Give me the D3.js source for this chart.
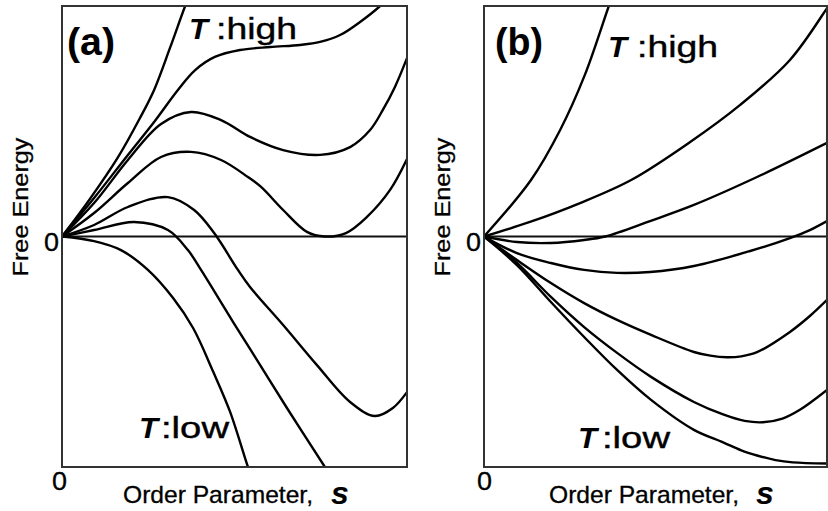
<!DOCTYPE html>
<html>
<head>
<meta charset="utf-8">
<script src="https://cdn.jsdelivr.net/npm/d3@7"></script>
<style>
  body { margin: 0; background: #fff; }
  svg { display: block; font-family: "Liberation Sans", Arial, sans-serif; }
</style>
</head>
<body>
<svg id="chart" width="828" height="511"></svg>
<script>
// Free energy curves as [s, F] pairs (s: 0..1, F: -1..1)
// Panel (a): first-order transition, high T first
const curveA1 = [[0, 0], [0.081, 0.163], [0.162, 0.343], [0.226, 0.514], [0.267, 0.636], [0.313, 0.818], [0.357, 1.0], [0.371, 1.05]];
const curveA2 = [[0, 0], [0.093, 0.167], [0.191, 0.354], [0.267, 0.497], [0.336, 0.636], [0.386, 0.722], [0.443, 0.779], [0.516, 0.809], [0.603, 0.822], [0.69, 0.831], [0.748, 0.844], [0.806, 0.874], [0.864, 0.931], [0.922, 1.0], [0.939, 1.026]];
const curveA3 = [[0, 0], [0.093, 0.145], [0.191, 0.332], [0.287, 0.488], [0.374, 0.54], [0.461, 0.505], [0.545, 0.432], [0.641, 0.375], [0.748, 0.354], [0.835, 0.388], [0.893, 0.462], [0.93, 0.549], [0.965, 0.649], [1.0, 0.774]];
const curveA4 = [[0, 0], [0.093, 0.102], [0.191, 0.232], [0.287, 0.345], [0.374, 0.367], [0.461, 0.332], [0.539, 0.258], [0.577, 0.215], [0.641, 0.115], [0.71, 0.02], [0.762, 0], [0.823, 0.015], [0.884, 0.085], [0.951, 0.202], [1.0, 0.336]];
const curveA5 = [[0, 0], [0.093, 0.05], [0.191, 0.128], [0.307, 0.171], [0.383, 0.115], [0.441, 0.015], [0.51, -0.145], [0.545, -0.219], [0.641, -0.384], [0.739, -0.558], [0.835, -0.718], [0.907, -0.779], [0.959, -0.744], [1.0, -0.675]];
const curveA6 = [[0, 0], [0.093, 0.028], [0.209, 0.063], [0.307, 0.028], [0.365, -0.059], [0.403, -0.145], [0.496, -0.371], [0.574, -0.557], [0.652, -0.744], [0.762, -1.0], [0.777, -1.035]];
const curveA7 = [[0, 0], [0.093, -0.02], [0.171, -0.059], [0.249, -0.145], [0.322, -0.267], [0.38, -0.397], [0.438, -0.586], [0.487, -0.76], [0.539, -1.0], [0.548, -1.035]];

// Panel (b): second-order transition, high T first
const curveB1 = [[0, 0], [0.137, 0.245], [0.222, 0.462], [0.294, 0.701], [0.364, 1.0], [0.376, 1.047]];
const curveB2 = [[0, 0], [0.134, 0.063], [0.28, 0.145], [0.429, 0.245], [0.601, 0.41], [0.746, 0.57], [0.892, 0.766], [1.0, 0.991], [1.015, 1.026]];
const curveB3 = [[0, 0], [0.096, -0.024], [0.195, -0.028], [0.292, -0.015], [0.353, 0], [0.484, 0.067], [0.612, 0.137], [0.796, 0.258], [1.0, 0.406]];
const curveB4 = [[0, 0], [0.096, -0.072], [0.195, -0.115], [0.292, -0.145], [0.388, -0.158], [0.484, -0.154], [0.612, -0.128], [0.776, -0.063], [0.892, -0.007], [0.95, 0.028], [1.0, 0.067]];
const curveB5 = [[0, 0], [0.096, -0.102], [0.195, -0.202], [0.292, -0.289], [0.388, -0.362], [0.487, -0.427], [0.612, -0.501], [0.66, -0.517], [0.708, -0.524], [0.75, -0.52], [0.796, -0.502], [0.892, -0.414], [0.95, -0.345], [1.0, -0.275]];
const curveB6 = [[0, 0], [0.096, -0.115], [0.195, -0.262], [0.292, -0.393], [0.388, -0.505], [0.487, -0.609], [0.612, -0.718], [0.697, -0.772], [0.76, -0.8], [0.813, -0.806], [0.87, -0.79], [0.921, -0.752], [1.0, -0.666]];
const curveB7 = [[0, 0], [0.096, -0.124], [0.195, -0.284], [0.292, -0.436], [0.388, -0.579], [0.487, -0.709], [0.612, -0.839], [0.697, -0.893], [0.75, -0.928], [0.796, -0.95], [0.85, -0.97], [0.9, -0.98], [1.0, -0.985]];

const curvesA = [curveA1, curveA2, curveA3, curveA4, curveA5, curveA6, curveA7];
const curvesB = [curveB1, curveB2, curveB3, curveB4, curveB5, curveB6, curveB7];

const panelTags = ["(a)", "(b)"];
const highLabel = ":high";
const lowLabel = ":low";
const tempSymbol = "T";
const xLabel = "Order Parameter,";
const xSymbol = "s";
const yLabel = "Free Energy";
const zeroTick = [0];

const svg = d3.select("#chart");
const frameTop = 6, frameBottom = 467;

const panels = [
  {
    curves: curvesA, tag: panelTags[0], x0: 62, x1: 407,
    tagX: 67, tagY: 55,
    highT: 189, high: 216, highY: 39,
    lowT: 139, low: 161, lowY: 438,
    yLabX: 28, sLab: 123, sSym: 331
  },
  {
    curves: curvesB, tag: panelTags[1], x0: 484, x1: 827,
    tagX: 495, tagY: 55,
    highT: 608, high: 637, highY: 57,
    lowT: 578, low: 602, lowY: 448,
    yLabX: 450, sLab: 549, sSym: 756
  }
];

panels.forEach((p, i) => {
  const x = d3.scaleLinear().domain([0, 1]).range([p.x0, p.x1]);
  const y = d3.scaleLinear().domain([-1, 1]).range([frameBottom, frameTop]);
  const g = svg.append("g").attr("class", "panel-" + i);

  // clip curves to the frame
  const clipId = "clip" + i;
  svg.append("clipPath").attr("id", clipId)
    .append("rect")
    .attr("x", p.x0).attr("y", frameTop)
    .attr("width", p.x1 - p.x0).attr("height", frameBottom - frameTop);

  // zero line
  g.append("line")
    .attr("x1", x(0)).attr("x2", x(1))
    .attr("y1", y(0)).attr("y2", y(0))
    .attr("stroke", "#111").attr("stroke-width", 2);

  const line = d3.line()
    .x((d) => x(d[0]))
    .y((d) => y(d[1]))
    .curve(d3.curveCatmullRom.alpha(0.5));

  g.append("g")
    .attr("clip-path", `url(#${clipId})`)
    .selectAll("path")
    .data(p.curves)
    .join("path")
    .attr("d", line)
    .attr("fill", "none")
    .attr("stroke", "#000")
    .attr("stroke-width", 2.4)
    .attr("stroke-linecap", "round");

  // frame
  g.append("rect")
    .attr("x", p.x0).attr("y", frameTop)
    .attr("width", p.x1 - p.x0).attr("height", frameBottom - frameTop)
    .attr("fill", "none")
    .attr("stroke", "#333").attr("stroke-width", 2);

  // "0" ticks on both axes
  const yAxis = g.append("g")
    .attr("transform", `translate(${p.x0},0)`)
    .call(d3.axisLeft(y).tickValues(zeroTick).tickSize(0).tickPadding(3).tickFormat(d3.format("d")));
  const xAxis = g.append("g")
    .attr("transform", `translate(0,${frameBottom})`)
    .call(d3.axisBottom(x).tickValues(zeroTick).tickSize(0).tickPadding(5).tickFormat(d3.format("d")));
  [yAxis, xAxis].forEach((a) => {
    a.select(".domain").remove();
    a.selectAll("text")
      .attr("fill", "#000")
      .style("font-size", "25px")
      .style("font-family", "'Liberation Sans', Arial, sans-serif")
      .attr("stroke", "#000").attr("stroke-width", 0.3)
      .attr("textLength", 15)
      .attr("lengthAdjust", "spacingAndGlyphs");
  });
  yAxis.selectAll("text").attr("dy", "0.56em");
  xAxis.selectAll("text").attr("dx", i === 0 ? -3 : 0);

  // panel tag
  g.append("text")
    .attr("x", p.tagX).attr("y", p.tagY)
    .style("font-size", "38px").style("font-weight", "bold")
    .attr("textLength", 48).attr("lengthAdjust", "spacingAndGlyphs")
    .text(p.tag);

  // temperature labels
  const tempLabel = (tx, lx, ty, txt, len) => {
    g.append("text")
      .attr("x", tx).attr("y", ty)
      .style("font-size", "30px").style("font-weight", "bold").style("font-style", "italic")
      .attr("textLength", 19).attr("lengthAdjust", "spacingAndGlyphs")
      .text(tempSymbol);
    g.append("text")
      .attr("x", lx).attr("y", ty)
      .style("font-size", "30px")
      .attr("stroke", "#000").attr("stroke-width", 0.4)
      .attr("textLength", len).attr("lengthAdjust", "spacingAndGlyphs")
      .text(txt);
  };
  tempLabel(p.highT, p.high, p.highY, highLabel, 81);
  tempLabel(p.lowT, p.low, p.lowY, lowLabel, 68);

  // axis titles
  g.append("text")
    .attr("x", p.sLab).attr("y", 503)
    .style("font-size", "24px")
    .attr("stroke", "#000").attr("stroke-width", 0.3)
    .attr("textLength", 190).attr("lengthAdjust", "spacingAndGlyphs")
    .text(xLabel);
  g.append("text")
    .attr("x", p.sSym).attr("y", 504)
    .style("font-size", "32px").style("font-weight", "bold").style("font-style", "italic")
    .text(xSymbol);
  g.append("text")
    .attr("transform", `translate(${p.yLabX},207) rotate(-90)`)
    .attr("text-anchor", "middle")
    .style("font-size", "22px")
    .attr("stroke", "#000").attr("stroke-width", 0.3)
    .attr("textLength", 139).attr("lengthAdjust", "spacingAndGlyphs")
    .text(yLabel);
});
</script>
</body>
</html>
